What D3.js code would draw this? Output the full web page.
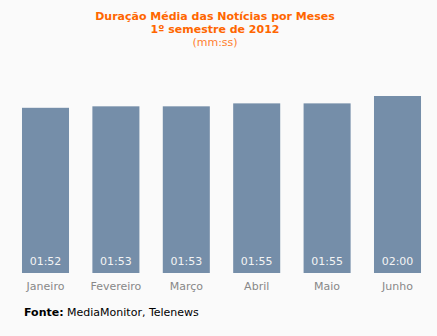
<!DOCTYPE html>
<html><head><meta charset="utf-8">
<script src="https://cdn.jsdelivr.net/npm/d3@7"></script>
<style>html,body{margin:0;padding:0;background:#fafafa;}svg{display:block;}</style>
</head><body>
<script>
const months = ["Janeiro","Fevereiro","Março","Abril","Maio","Junho"];
const seconds = [112,113,113,115,115,120];
const valueLabels = ["01:52","01:53","01:53","01:55","01:55","02:00"];
const titleLines = ["Duração Média das Notícias por Meses","1º semestre de 2012"];
const unitLabel = "(mm:ss)";

const W=437,H=336;
const svg=d3.select("body").append("svg").attr("width",W).attr("height",H);
svg.append("rect").attr("width",W).attr("height",H).attr("fill","#fafafa");
const font="'DejaVu Sans', Verdana, sans-serif";

const x=d3.scaleBand().domain(months).range([10.3,432.7]).paddingInner(0.332).paddingOuter(0.166);
const y=d3.scaleLinear().domain([0,120]).range([273,96]);

svg.selectAll("rect.bar").data(months).join("rect").attr("class","bar")
 .attr("x",d=>x(d)).attr("width",x.bandwidth())
 .attr("y",(d,i)=>y(seconds[i])).attr("height",(d,i)=>y(0)-y(seconds[i]))
 .attr("fill","#758ea9");

svg.selectAll("text.val").data(months).join("text").attr("class","val")
 .attr("x",d=>x(d)+x.bandwidth()/2).attr("y",265)
 .attr("text-anchor","middle").attr("font-family",font).attr("font-size",11)
 .attr("fill","#f4f4f4").text((d,i)=>valueLabels[i]);

const xAxis=svg.append("g").attr("transform","translate(0,273)")
 .call(d3.axisBottom(x).tickSize(0).tickPadding(6));
xAxis.select(".domain").remove();
xAxis.selectAll("text").attr("font-family",font).attr("font-size",11).attr("fill","#888888").attr("dy","0.71em").attr("y",9);

svg.selectAll("text.title").data(titleLines).join("text").attr("class","title")
 .attr("x",215).attr("y",(d,i)=>20+i*13).attr("text-anchor","middle")
 .attr("font-family",font).attr("font-size",11).attr("font-weight","bold")
 .attr("fill","#ff6600").text(d=>d);
svg.append("text").attr("x",215).attr("y",46).attr("text-anchor","middle")
 .attr("font-family",font).attr("font-size",11).attr("fill","#ff8030").text(unitLabel);

const f=svg.append("text").attr("x",24).attr("y",316).attr("font-family",font).attr("font-size",11).attr("fill","#000");
f.append("tspan").attr("font-weight","bold").text("Fonte:");
f.append("tspan").text(" MediaMonitor, Telenews");
</script>
</body></html>
